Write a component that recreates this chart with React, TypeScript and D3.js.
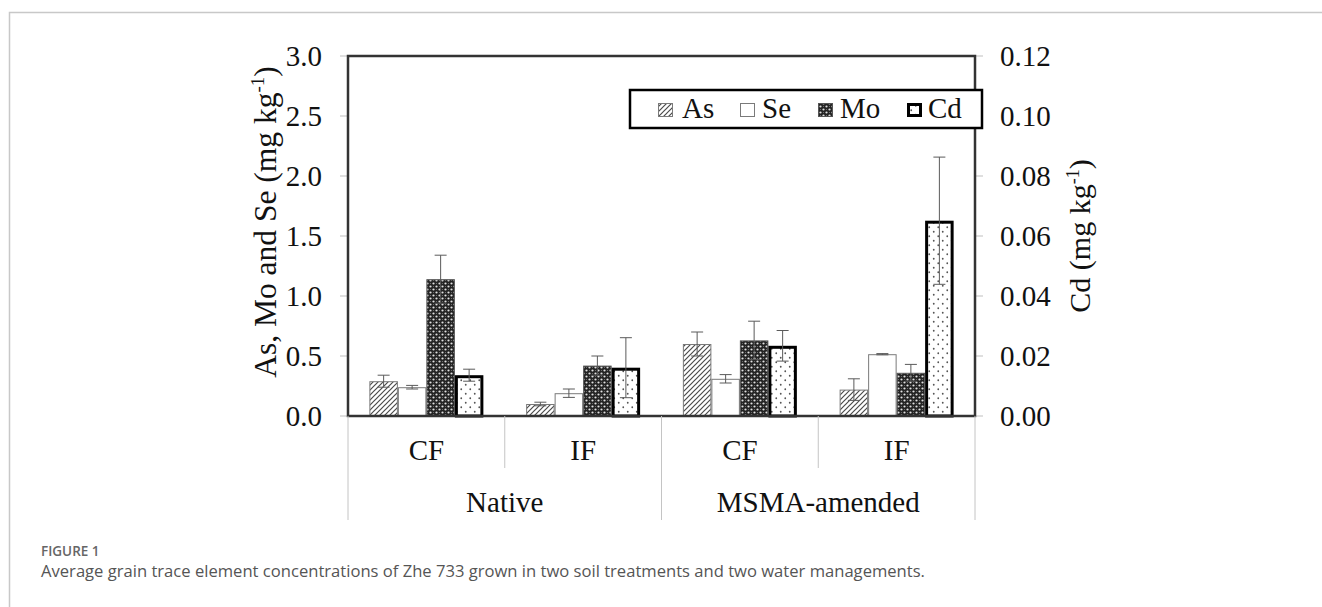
import { scaleBand, scaleLinear } from "d3";

const groups = ["Native", "MSMA-amended"];
const waterings = ["CF", "IF", "CF", "IF"];
const elements = ["As", "Se", "Mo", "Cd"];

// left axis (mg kg-1)
const asValues = [0.29, 0.1, 0.6, 0.22];
const asErrors = [0.05, 0.015, 0.1, 0.09];
const seValues = [0.24, 0.19, 0.31, 0.515];
const seErrors = [0.015, 0.035, 0.035, 0.005];
const moValues = [1.14, 0.42, 0.63, 0.36];
const moErrors = [0.2, 0.08, 0.16, 0.07];
// right axis (mg kg-1)
const cdValues = [0.0136, 0.0161, 0.0234, 0.0651];
const cdErrors = [0.002, 0.01, 0.0051, 0.0212];

const leftTicks = [0, 0.5, 1, 1.5, 2, 2.5, 3];
const rightTicks = [0, 0.02, 0.04, 0.06, 0.08, 0.1, 0.12];

const W = 1322;
const H = 607;
const plot = { left: 348, right: 975, top: 56, bottom: 416 };
const serif = "'Liberation Serif', 'Times New Roman', serif";
const fs = 29;

const series = [
  { key: "As", values: asValues, errors: asErrors, axis: "left", fill: "url(#hatch)", stroke: "#7a7a7a", sw: 1 },
  { key: "Se", values: seValues, errors: seErrors, axis: "left", fill: "#fff", stroke: "#7a7a7a", sw: 1 },
  { key: "Mo", values: moValues, errors: moErrors, axis: "left", fill: "url(#checker)", stroke: "#555", sw: 1 },
  { key: "Cd", values: cdValues, errors: cdErrors, axis: "right", fill: "url(#dots)", stroke: "#000", sw: 3 },
];

// legend layout: swatch x offset and label x offset from legend box
const legendOffsets = [
  { sw: 28, tx: 52 },
  { sw: 110, tx: 132 },
  { sw: 188, tx: 210 },
  { sw: 277, tx: 298 },
];

export default function App() {
  const xCat = scaleBand<number>()
    .domain(waterings.map((_, i) => i))
    .range([plot.left, plot.right]);
  const xSeries = scaleBand<string>()
    .domain(elements)
    .range([0, xCat.bandwidth()])
    .paddingInner(0)
    .paddingOuter(0.75);
  const yLeft = scaleLinear().domain([0, 3]).range([plot.bottom, plot.top]);
  const yRight = scaleLinear().domain([0, 0.12]).range([plot.bottom, plot.top]);
  const xGroup = scaleBand<string>().domain(groups).range([plot.left, plot.right]);

  const bw = xSeries.bandwidth();
  const capW = 12;

  return (
    <div style={{ position: "absolute", left: 0, top: 0 }}>
      <svg width={W} height={H} viewBox={`0 0 ${W} ${H}`} style={{ display: "block", background: "#fff" }}>
        <defs>
          <pattern id="hatch" patternUnits="userSpaceOnUse" width={5} height={5}>
            <rect width={5} height={5} fill="#fff" />
            <path d="M0,5 L5,0 M-1,1 L1,-1 M4,6 L6,4" stroke="#4a4a4a" strokeWidth={1.2} />
          </pattern>
          <pattern id="checker" patternUnits="userSpaceOnUse" width={6} height={6}>
            <rect width={6} height={6} fill="#222" />
            <circle cx={1.5} cy={1.5} r={1.1} fill="#e0e0e0" />
            <circle cx={4.5} cy={4.5} r={1.1} fill="#e0e0e0" />
            <circle cx={4.5} cy={1.5} r={0.6} fill="#777" />
            <circle cx={1.5} cy={4.5} r={0.6} fill="#777" />
          </pattern>
          <pattern id="dots" patternUnits="userSpaceOnUse" width={9} height={9}>
            <rect width={9} height={9} fill="#fff" />
            <circle cx={2.25} cy={2.25} r={0.9} fill="#555" />
            <circle cx={6.75} cy={6.75} r={0.9} fill="#555" />
          </pattern>
        </defs>

        {/* figure frame */}
        <path d={`M9.5,${H} L9.5,12.5 L${W},12.5`} fill="none" stroke="#c8c8c8" strokeWidth={1.5} />

        {/* ticks */}
        {leftTicks.map((t) => (
          <g key={`l${t}`}>
            <line x1={plot.left - 8} x2={plot.left} y1={yLeft(t)} y2={yLeft(t)} stroke="#bfbfbf" />
            <text x={plot.left - 26} y={yLeft(t)} dy="0.35em" textAnchor="end" fontFamily={serif} fontSize={fs} fill="#111">
              {t.toFixed(1)}
            </text>
          </g>
        ))}
        {rightTicks.map((t) => (
          <g key={`r${t}`}>
            <line x1={plot.right} x2={plot.right + 8} y1={yRight(t)} y2={yRight(t)} stroke="#bfbfbf" />
            <text x={plot.right + 25} y={yRight(t)} dy="0.35em" textAnchor="start" fontFamily={serif} fontSize={fs} fill="#111">
              {t.toFixed(2)}
            </text>
          </g>
        ))}

        {/* bars */}
        {series.map((s) => {
          const y = s.axis === "left" ? yLeft : yRight;
          return (
            <g key={s.key}>
              {s.values.map((v, i) => {
                const x = (xCat(i) ?? 0) + (xSeries(s.key) ?? 0);
                const inset = s.sw / 2;
                return (
                  <rect
                    key={i}
                    x={x + inset}
                    y={y(v) + inset}
                    width={bw - s.sw}
                    height={plot.bottom - y(v) - inset}
                    fill={s.fill}
                    stroke={s.stroke}
                    strokeWidth={s.sw}
                  />
                );
              })}
            </g>
          );
        })}

        {/* error bars */}
        {series.map((s) => {
          const y = s.axis === "left" ? yLeft : yRight;
          return (
            <g key={`e${s.key}`} stroke="#5a5a5a" strokeWidth={1}>
              {s.values.map((v, i) => {
                const cx = (xCat(i) ?? 0) + (xSeries(s.key) ?? 0) + bw / 2;
                const y1 = y(v + s.errors[i]);
                const y2 = y(v - s.errors[i]);
                return (
                  <g key={i}>
                    <line x1={cx} x2={cx} y1={y1} y2={y2} />
                    <line x1={cx - capW / 2} x2={cx + capW / 2} y1={y1} y2={y1} />
                    <line x1={cx - capW / 2} x2={cx + capW / 2} y1={y2} y2={y2} />
                  </g>
                );
              })}
            </g>
          );
        })}

        {/* plot frame */}
        <rect
          x={plot.left}
          y={plot.top}
          width={plot.right - plot.left}
          height={plot.bottom - plot.top}
          fill="none"
          stroke="#333"
          strokeWidth={2.5}
        />

        {/* category axis */}
        {waterings.map((w, i) => (
          <text
            key={`w${i}`}
            x={(xCat(i) ?? 0) + xCat.bandwidth() / 2}
            y={460}
            textAnchor="middle"
            fontFamily={serif}
            fontSize={fs}
            fill="#111"
          >
            {w}
          </text>
        ))}
        {waterings.map((_, i) =>
          i % 2 === 1 ? (
            <line key={`s${i}`} x1={xCat(i)} x2={xCat(i)} y1={plot.bottom} y2={468} stroke="#c4c4c4" />
          ) : null
        )}
        {groups.map((g) => (
          <g key={g}>
            <line x1={xGroup(g)} x2={xGroup(g)} y1={plot.bottom} y2={520} stroke="#c4c4c4" />
            <text
              x={(xGroup(g) ?? 0) + xGroup.bandwidth() / 2}
              y={512}
              textAnchor="middle"
              fontFamily={serif}
              fontSize={fs}
              fill="#111"
            >
              {g}
            </text>
          </g>
        ))}
        <line x1={plot.right} x2={plot.right} y1={plot.bottom} y2={520} stroke="#c4c4c4" />

        {/* axis titles */}
        <text transform="translate(276,222) rotate(-90)" textAnchor="middle" fontFamily={serif} fontSize={31.5} fill="#111">
          As, Mo and Se (mg kg
          <tspan dy={-12} fontSize={19}>-1</tspan>
          <tspan dy={12}>)</tspan>
        </text>
        <text transform="translate(1090,236) rotate(-90)" textAnchor="middle" fontFamily={serif} fontSize={30} fill="#111">
          Cd (mg kg
          <tspan dy={-11} fontSize={18}>-1</tspan>
          <tspan dy={11}>)</tspan>
        </text>

        {/* legend */}
        <g transform="translate(630,90)">
          <rect width={352} height={38} fill="#fff" stroke="#000" strokeWidth={2.5} />
          {series.map((s, i) => (
            <g key={`lg${s.key}`}>
              <rect
                x={legendOffsets[i].sw + s.sw / 2}
                y={13 + s.sw / 2}
                width={15 - s.sw}
                height={14 - s.sw}
                fill={s.fill}
                stroke={s.stroke}
                strokeWidth={s.sw}
              />
              <text x={legendOffsets[i].tx} y={28} fontFamily={serif} fontSize={fs} fill="#111">
                {s.key}
              </text>
            </g>
          ))}
        </g>

        {/* caption */}
        <text x={41} y={556} fontFamily="'Open Sans', sans-serif" fontSize={13.5} fontWeight={600} fill="#666">
          FIGURE 1
        </text>
        <text x={41} y={577} fontFamily="'Open Sans', sans-serif" fontSize={16.6} fill="#555">
          Average grain trace element concentrations of Zhe 733 grown in two soil treatments and two water managements.
        </text>
      </svg>
    </div>
  );
}
